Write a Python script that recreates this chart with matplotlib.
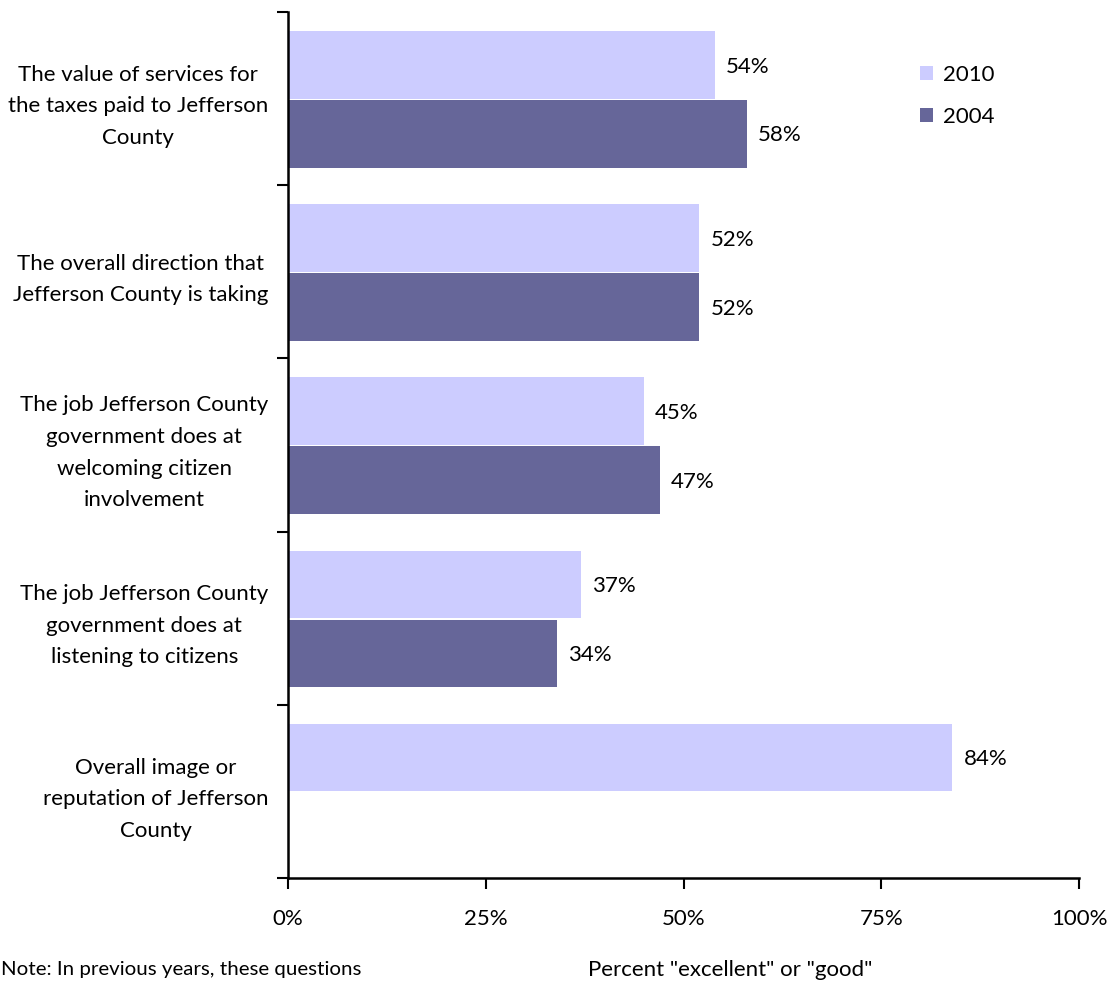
import matplotlib
matplotlib.use("Agg")
import matplotlib.pyplot as plt
from matplotlib.patches import Patch
import numpy as np

categories = [
    "The value of services for\nthe taxes paid to Jefferson\nCounty",
    "The overall direction that\nJefferson County is taking",
    "The job Jefferson County\ngovernment does at\nwelcoming citizen\ninvolvement",
    "The job Jefferson County\ngovernment does at\nlistening to citizens",
    "Overall image or\nreputation of Jefferson\nCounty",
]
values_2010 = [54, 52, 45, 37, 84]
values_2004 = [58, 52, 47, 34, None]
series_names = ["2010", "2004"]
colors = ["#CCCCFF", "#666699"]
xticks = [0, 25, 50, 75, 100]
xlabel = 'Percent "excellent" or "good"'
note = "Note: In previous years, these questions"

plt.rcParams['font.family'] = ['Lato', 'DejaVu Sans']
fs = 16

fig = plt.figure(figsize=(11.13, 9.85), dpi=100)
ax = fig.add_axes([288/1113, 1-878/985, (1079-288)/1113, (878-12)/985])

n = len(categories)
bar_h = 0.39
for i, cat in enumerate(categories):
    top = i  # band from i to i+1 (inverted y)
    c1 = top + 0.11 + bar_h/2
    c2 = top + 0.508 + bar_h/2
    v1 = values_2010[i]
    v2 = values_2004[i]
    if v1 is not None:
        ax.barh(c1, v1, height=bar_h, color=colors[0], edgecolor='none')
        ax.text(v1 + 1.4, c1 + 0.01, f"{v1}%", va='center', ha='left', fontsize=fs)
    if v2 is not None:
        ax.barh(c2, v2, height=bar_h, color=colors[1], edgecolor='none')
        ax.text(v2 + 1.4, c2 + 0.01, f"{v2}%", va='center', ha='left', fontsize=fs)

ax.set_ylim(n, 0)
ax.set_xlim(0, 100)
ax.set_yticks(np.arange(n + 1))
ax.set_yticklabels([])
ax.set_yticks(np.arange(n) + 0.5, minor=True)
ax.set_yticklabels(categories, minor=True, fontsize=fs, linespacing=1.72)
for lab in ax.get_yticklabels(minor=True):
    lab.set_multialignment('center')
ax.tick_params(axis='y', which='minor', length=0, pad=14)
ax.tick_params(axis='y', which='major', length=8, width=1.5, direction='out')
ax.set_xticks(xticks)
ax.set_xticklabels([f"{t}%" for t in xticks], fontsize=fs)
ax.tick_params(axis='x', length=8, width=1.5, direction='out', pad=14)

for s in ['top', 'right']:
    ax.spines[s].set_visible(False)
for s in ['left', 'bottom']:
    ax.spines[s].set_linewidth(1.8)

handles = [Patch(facecolor=colors[0]), Patch(facecolor=colors[1])]
fig.legend(handles, series_names, loc='upper left', bbox_to_anchor=(900/1113, 1-45/985),
           frameon=False, fontsize=fs, handlelength=0.6, handleheight=0.6,
           handletextpad=0.45, labelspacing=1.0)

fig.text(730/1113, 1-970/985, xlabel, ha='center', va='center', fontsize=fs)
fig.text(1/1113, 1-970/985, note, ha='left', va='center', fontsize=fs*0.92)

fig.savefig("out.png", dpi=100)
